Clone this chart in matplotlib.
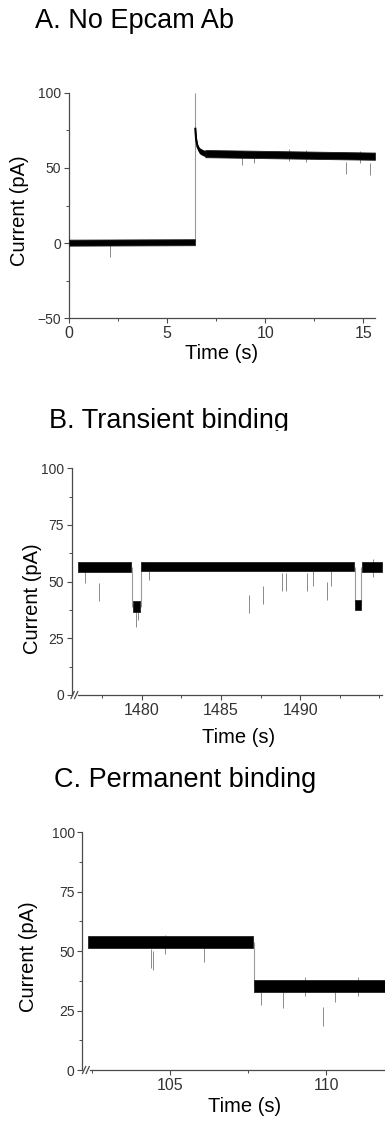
import matplotlib
matplotlib.use("Agg")
import matplotlib.pyplot as plt
from matplotlib.lines import Line2D
from matplotlib.patches import Rectangle
from matplotlib.ticker import MultipleLocator, FixedLocator

plt.rcParams['font.family'] = ['Liberation Sans', 'DejaVu Sans']

# ---------------- data ----------------
# Panel A: No Epcam Ab
a_title = "A. No Epcam Ab"
a_seg_t0 = [0.0, 6.95]
a_seg_t1 = [6.42, 15.6]
a_seg_v0 = [0.3, 59.5]          # level at segment start
a_seg_v1 = [0.6, 57.8]          # level at segment end
a_seg_hw = [2.0, 2.4]           # half width of noise band
a_decay_t = [6.44, 6.48, 6.55, 6.65, 6.8, 6.95]
a_decay_v = [76, 69, 64, 61.5, 60.3, 59.5]
a_step_t = [6.42]
a_step_lo = [0.5]
a_step_hi = [100]
a_spike_t = [2.09, 8.8, 9.45, 11.2, 12.1, 14.1, 14.83, 15.34]
a_spike_v = [-9.5, 52, 53, 54.5, 54, 46, 53, 45]

# Panel B: Transient binding
b_title = "B. Transient binding"
b_seg_t0 = [1475.95, 1479.42, 1479.97, 1493.47, 1493.9]
b_seg_t1 = [1479.32, 1479.9, 1493.4, 1493.82, 1495.15]
b_seg_v0 = [56.5, 39.0, 56.6, 39.5, 56.3]
b_seg_v1 = [56.5, 39.0, 56.6, 39.5, 56.3]
b_seg_hw = [2.2, 2.4, 2.1, 2.2, 2.2]
b_step_t = [1479.36, 1479.94, 1493.44, 1493.86]
b_step_lo = [39.0, 39.0, 39.5, 39.5]
b_step_hi = [56.5, 56.6, 56.6, 56.3]
b_spike_t = [1476.4, 1477.3, 1479.6, 1479.75, 1480.43, 1486.74, 1487.65,
             1488.85, 1489.1, 1490.46, 1490.84, 1491.68, 1491.96, 1494.6]
b_spike_v = [49.5, 41.5, 30, 33, 50.7, 36, 40, 46, 46, 46, 48, 42, 48, 52]
b_xticks = [1480, 1485, 1490]

# Panel C: Permanent binding
c_title = "C. Permanent binding"
c_seg_t0 = [102.39, 107.7]
c_seg_t1 = [107.66, 111.9]
c_seg_v0 = [53.8, 35.4]
c_seg_v1 = [53.8, 35.4]
c_seg_hw = [2.5, 2.5]
c_step_t = [107.68]
c_step_lo = [35.4]
c_step_hi = [53.8]
c_spike_t = [104.39, 104.47, 104.85, 106.1, 107.9, 108.6, 109.3, 109.9, 110.27, 111.0]
c_spike_v = [43, 42, 49, 45.6, 27.5, 26, 31, 18.5, 28.5, 31]
c_xticks = [105, 110]

# ---------------- layout ----------------
W, H = 385, 1128
fig = plt.figure(figsize=(W / 100, H / 100), dpi=100)


def fx(px):
    return px / W


def fy(py):
    return 1 - py / H


def make_axes(left, right, top, bottom):
    return fig.add_axes([fx(left), fy(bottom), (right - left) / W, (bottom - top) / H])


SPINE = '#4a4a4a'
TICKC = '#333333'


def style(ax, xmaj, xmin, ymaj, ymin):
    for s in ['top', 'right']:
        ax.spines[s].set_visible(False)
    for s in ['left', 'bottom']:
        ax.spines[s].set_color(SPINE)
        ax.spines[s].set_linewidth(0.9)
    ax.xaxis.set_major_locator(xmaj)
    ax.xaxis.set_minor_locator(MultipleLocator(xmin))
    ax.yaxis.set_major_locator(MultipleLocator(ymaj))
    ax.yaxis.set_minor_locator(MultipleLocator(ymin))
    ax.tick_params(which='major', direction='out', length=3.5, width=0.8, color=SPINE,
                   labelcolor=TICKC, pad=2)
    ax.tick_params(which='minor', direction='out', length=2.2, width=0.7, color=SPINE)
    ax.tick_params(axis='x', labelsize=11.5)
    ax.tick_params(axis='y', labelsize=10)


def draw_trace(ax, t0, t1, v0, v1, hw, step_t, step_lo, step_hi, spike_t, spike_v):
    for a, b, p, q, h in zip(t0, t1, v0, v1, hw):
        ax.fill_between([a, b], [p - h, q - h], [p + h, q + h], color='black', lw=0.6,
                        edgecolor='#222222', zorder=3)
    for t, lo, hi in zip(step_t, step_lo, step_hi):
        ax.vlines(t, lo, hi, color='#9a9a9a', lw=0.8, zorder=1)
    for t, v in zip(spike_t, spike_v):
        ax.vlines(t, v, v + 8, color='#8a8a8a', lw=0.7, zorder=1)


def break_marks(y, x0):
    for dx in (0, 3.6):
        fig.add_artist(Line2D([fx(x0 + dx), fx(x0 + dx + 3.2)], [fy(y + 3.5), fy(y - 3.5)],
                              color=SPINE, lw=0.9))


# Panel A
axA = make_axes(69, 375, 92.7, 318.3)
axA.set_xlim(0, 15.6)
axA.set_ylim(-50, 100)
style(axA, MultipleLocator(5), 2.5, 50, 25)
draw_trace(axA, a_seg_t0, a_seg_t1, a_seg_v0, a_seg_v1, a_seg_hw,
           a_step_t, a_step_lo, a_step_hi, a_spike_t, a_spike_v)
axA.fill_between(a_decay_t, [v - 2.0 for v in a_decay_v], [v + 2.0 for v in a_decay_v],
                 color='black', lw=0, zorder=3)
axA.plot(a_decay_t, a_decay_v, color='black', lw=1.5, zorder=3)

# Panel B
axB = make_axes(71.5, 381.7, 468.3, 695)
axB.set_xlim(1475.55, 1495.15)
axB.set_ylim(0, 100)
style(axB, FixedLocator(b_xticks), 2.5, 25, 12.5)
axB.spines['bottom'].set_bounds(1475.95, 1495.15)
draw_trace(axB, b_seg_t0, b_seg_t1, b_seg_v0, b_seg_v1, b_seg_hw,
           b_step_t, b_step_lo, b_step_hi, b_spike_t, b_spike_v)
break_marks(695, 71)

# Panel C
axC = make_axes(82.3, 385, 832.3, 1070)
axC.set_xlim(102.2, 111.87)
axC.set_ylim(0, 100)
style(axC, FixedLocator(c_xticks), 2.5, 25, 12.5)
axC.spines['bottom'].set_bounds(102.45, 111.87)
draw_trace(axC, c_seg_t0, c_seg_t1, c_seg_v0, c_seg_v1, c_seg_hw,
           c_step_t, c_step_lo, c_step_hi, c_spike_t, c_spike_v)
break_marks(1070, 82.5)

# Titles
fig.text(fx(35), fy(28.3), a_title, fontsize=19.5, va='baseline', ha='left')
fig.text(fx(49.3), fy(428.3), b_title, fontsize=19.5, va='baseline', ha='left')
fig.text(fx(54.3), fy(787.3), c_title, fontsize=19.5, va='baseline', ha='left')
# the B title is cut at the bottom in the original
fig.add_artist(Rectangle((fx(40), fy(440)), fx(300), (440 - 430.5) / H,
                         transform=fig.transFigure, color='white', zorder=10))

# Axis labels
fig.text(fx(222), fy(359.3), "Time (s)", fontsize=14.5, va='baseline', ha='center')
fig.text(fx(238.3), fy(742.7), "Time (s)", fontsize=14.5, va='baseline', ha='center')
fig.text(fx(245), fy(1112.3), "Time (s)", fontsize=14.5, va='baseline', ha='center')
fig.text(fx(20), fy(210.8), "Current (pA)", fontsize=14.5, rotation=90, va='center', ha='center')
fig.text(fx(33), fy(599), "Current (pA)", fontsize=14.5, rotation=90, va='center', ha='center')
fig.text(fx(28.7), fy(957), "Current (pA)", fontsize=14.5, rotation=90, va='center', ha='center')

fig.savefig("out.png", dpi=100)
